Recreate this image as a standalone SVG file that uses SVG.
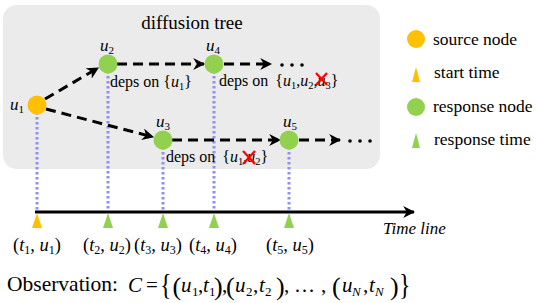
<svg xmlns="http://www.w3.org/2000/svg" width="537" height="303" viewBox="0 0 537 303">
<defs>
<marker id="ah" viewBox="0 0 10 10" refX="9" refY="5" markerWidth="4" markerHeight="4" orient="auto" markerUnits="strokeWidth">
<path d="M0,0 L10,5 L0,10 L3,5 Z" fill="#000"/>
</marker>
</defs>
<style>
.t{font-family:"Liberation Serif",serif;fill:#000}
.i{font-style:italic}
.dash{stroke:#000;stroke-width:3;stroke-dasharray:10,6;fill:none}
.dot{stroke:#9090F0;stroke-width:3;stroke-dasharray:2.5,2.5;fill:none}
.src{fill:#FFC000}
.rsp{fill:#92D050}
.x{stroke:#FF0000;stroke-width:2.2}
.m{font-size:21px}
.p{font-size:26px}
.s{font-size:13px}
</style>
<rect x="3" y="5" width="377" height="164" rx="14" fill="#EBEBEB"/>
<text class="t" x="192" y="29" font-size="19" text-anchor="middle">diffusion  tree</text>

<g id="dotted">
<line class="dot" x1="37" y1="112" x2="37" y2="211"/>
<line class="dot" x1="108" y1="71" x2="108" y2="211"/>
<line class="dot" x1="163" y1="147" x2="163" y2="211"/>
<line class="dot" x1="214" y1="71" x2="214" y2="211"/>
<line class="dot" x1="289" y1="147" x2="289" y2="211"/>
</g>

<g id="connectors">
<line class="dash" x1="45" y1="99" x2="98" y2="68" marker-end="url(#ah)"/>
<line class="dash" x1="46" y1="109" x2="153" y2="137" marker-end="url(#ah)"/>
<line class="dash" x1="117" y1="64" x2="204" y2="64" marker-end="url(#ah)"/>
<line class="dash" x1="172" y1="140" x2="280" y2="140" marker-end="url(#ah)"/>
<line class="dash" x1="224" y1="64" x2="271" y2="64" marker-end="url(#ah)"/>
<line class="dash" x1="299" y1="140" x2="340" y2="140" stroke-dasharray="9,10" marker-end="url(#ah)"/>
</g>

<g id="u1"><circle class="src" cx="37" cy="105" r="9.5"/>
<text class="t i" x="10" y="110" font-size="17">u<tspan font-size="11" dy="3" font-style="normal">1</tspan></text></g>
<g id="u2"><circle class="rsp" cx="108" cy="64" r="9.5"/>
<text class="t i" x="100" y="51" font-size="17">u<tspan font-size="11" dy="3" font-style="normal">2</tspan></text>
<text class="t" x="110" y="87" font-size="16">deps on {<tspan font-style="italic">u</tspan><tspan font-size="10.5" dy="3">1</tspan><tspan dy="-3">}</tspan></text></g>
<g id="u4"><circle class="rsp" cx="214" cy="64" r="9.5"/>
<text class="t i" x="206" y="51" font-size="17">u<tspan font-size="11" dy="3" font-style="normal">4</tspan></text>
<text class="t" x="219" y="86" font-size="16">deps on <tspan dx="3">{</tspan><tspan font-style="italic">u</tspan><tspan font-size="10.5" dy="3">1</tspan><tspan dy="-3">,</tspan><tspan font-style="italic">u</tspan><tspan font-size="10.5" dy="3">2</tspan><tspan dy="-3">,</tspan><tspan font-style="italic">u</tspan><tspan font-size="10.5" dy="3">3</tspan><tspan dy="-3">}</tspan></text>
<line class="x" x1="316" y1="73" x2="327" y2="85"/><line class="x" x1="327" y1="73" x2="316" y2="85"/></g>
<g id="u3"><circle class="rsp" cx="163" cy="140" r="9.5"/>
<text class="t i" x="156" y="127" font-size="17">u<tspan font-size="11" dy="3" font-style="normal">3</tspan></text>
<text class="t" x="166" y="162" font-size="16">deps on <tspan dx="3">{</tspan><tspan font-style="italic">u</tspan><tspan font-size="10.5" dy="3">1</tspan><tspan dy="-3">,</tspan><tspan font-style="italic">u</tspan><tspan font-size="10.5" dy="3">2</tspan><tspan dy="-3">}</tspan></text>
<line class="x" x1="243" y1="151" x2="255" y2="164"/><line class="x" x1="255" y1="151" x2="243" y2="164"/></g>
<g id="u5"><circle class="rsp" cx="289" cy="140" r="9.5"/>
<text class="t i" x="283" y="127" font-size="17">u<tspan font-size="11" dy="3" font-style="normal">5</tspan></text></g>

<g id="ellipses">
<circle cx="282" cy="65" r="1.8" fill="#000"/><circle cx="292" cy="65" r="1.8" fill="#000"/><circle cx="302" cy="65" r="1.8" fill="#000"/>
<circle cx="350" cy="141" r="1.8" fill="#000"/><circle cx="360" cy="141" r="1.8" fill="#000"/><circle cx="370" cy="141" r="1.8" fill="#000"/>
</g>

<g id="legend">
<circle class="src" cx="416" cy="39" r="9"/>
<text class="t" x="433" y="45" font-size="17.5">source node</text>
<polygon class="src" points="416,67 420,82 412,82"/>
<text class="t" x="434" y="78" font-size="17.5">start time</text>
<circle class="rsp" cx="416" cy="107" r="9"/>
<text class="t" x="433" y="112" font-size="17.5">response node</text>
<polygon class="rsp" points="416,133 420,148 412,148"/>
<text class="t" x="434" y="145" font-size="17.5">response time</text>
</g>

<g id="timeline">
<line x1="35" y1="212" x2="414" y2="212" stroke="#000" stroke-width="3" marker-end="url(#ah)"/>
<text class="t i" x="383" y="234" font-size="17">Time line</text>
<polygon class="src" points="37,213 42,228 32,228"/>
<polygon class="rsp" points="108,213 113,228 103,228"/>
<polygon class="rsp" points="163,213 168,228 158,228"/>
<polygon class="rsp" points="214,213 219,228 209,228"/>
<polygon class="rsp" points="289,213 294,228 284,228"/>
<g class="t" font-size="18.5">
<text x="13" y="251">(<tspan font-style="italic">t</tspan><tspan font-size="12" dy="3">1</tspan><tspan dy="-3">, </tspan><tspan font-style="italic">u</tspan><tspan font-size="12" dy="3">1</tspan><tspan dy="-3">)</tspan></text>
<text x="83" y="251">(<tspan font-style="italic">t</tspan><tspan font-size="12" dy="3">2</tspan><tspan dy="-3">, </tspan><tspan font-style="italic">u</tspan><tspan font-size="12" dy="3">2</tspan><tspan dy="-3">)</tspan></text>
<text x="134" y="251">(<tspan font-style="italic">t</tspan><tspan font-size="12" dy="3">3</tspan><tspan dy="-3">, </tspan><tspan font-style="italic">u</tspan><tspan font-size="12" dy="3">3</tspan><tspan dy="-3">)</tspan></text>
<text x="189" y="251">(<tspan font-style="italic">t</tspan><tspan font-size="12" dy="3">4</tspan><tspan dy="-3">, </tspan><tspan font-style="italic">u</tspan><tspan font-size="12" dy="3">4</tspan><tspan dy="-3">)</tspan></text>
<text x="266" y="251">(<tspan font-style="italic">t</tspan><tspan font-size="12" dy="3">5</tspan><tspan dy="-3">, </tspan><tspan font-style="italic">u</tspan><tspan font-size="12" dy="3">5</tspan><tspan dy="-3">)</tspan></text>
</g>
</g>

<g id="observation" class="t">
<text x="7" y="291" font-size="21.5">Observation:</text>
<text class="m i" x="128" y="292">C</text>
<text class="m" x="146" y="292">=</text>
<text x="160" y="294" font-size="30" transform="translate(160 294) scale(0.8 1) translate(-160 -294)">{</text>
<text class="p" x="172.5" y="295">(</text>
<text class="m i" x="181" y="292">u</text><text class="s" x="192" y="296">1</text>
<text class="m" x="198" y="292">,</text>
<text class="m i" x="203" y="292">t</text><text class="s" x="209" y="296">1</text>
<text class="p" x="214" y="295">)</text>
<text class="m" x="222" y="292">,</text>
<text class="p" x="226" y="295">(</text>
<text class="m i" x="235" y="292">u</text><text class="s" x="246" y="296">2</text>
<text class="m" x="253" y="292">,</text>
<text class="m i" x="259" y="292">t</text><text class="s" x="265" y="296">2</text>
<text class="p" x="276" y="295">)</text>
<text class="m" x="284" y="292">,</text>
<text class="m" x="294" y="292">…</text>
<text class="m" x="321" y="292">,</text>
<text class="p" x="332" y="295">(</text>
<text class="m i" x="342" y="292">u</text><text class="s i" x="352" y="296">N</text>
<text class="m" x="363" y="292">,</text>
<text class="m i" x="369" y="292">t</text><text class="s i" x="375" y="296">N</text>
<text class="p" x="390" y="295">)</text>
<text x="399" y="294" font-size="30" transform="translate(399 294) scale(0.8 1) translate(-399 -294)">}</text>
</g>
</svg>
